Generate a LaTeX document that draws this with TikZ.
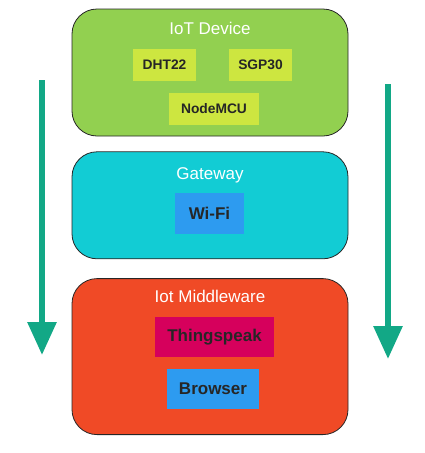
\documentclass[tikz,border=0pt]{standalone}
\usepackage{fontspec}
\setmainfont{Liberation Sans}
\usetikzlibrary{positioning,arrows.meta}
\definecolor{devicegreen}{RGB}{146,208,80}
\definecolor{chipgreen}{RGB}{205,230,64}
\definecolor{gatecyan}{RGB}{18,204,212}
\definecolor{wifiblue}{RGB}{45,155,240}
\definecolor{midred}{RGB}{240,74,38}
\definecolor{speakpink}{RGB}{214,0,92}
\definecolor{arrowteal}{RGB}{18,168,134}
\begin{document}
\begin{tikzpicture}[x=1pt,y=-1pt,
  layer/.style={draw=black!85,line width=0.8pt,rounded corners=25pt,minimum width=276pt},
  title/.style={text=white,anchor=base,font=\fontsize{17}{17}\selectfont},
  chip/.style={fill=chipgreen,text=black!85,inner sep=0pt,minimum height=32pt,font=\bfseries\fontsize{13.8}{14}\selectfont},
  part/.style={text=black!85,inner sep=0pt,minimum height=40pt,font=\bfseries\fontsize{17}{17}\selectfont}]
  \tikzstyle{flow}=[line width=6pt, draw=arrowteal, -{Triangle[length=33pt,width=28pt]}]

\useasboundingbox (0,0) rectangle (425,453);

\node [layer,fill=devicegreen,minimum height=127pt] (iot) at (210,72.5) {};
\node [layer,fill=gatecyan,minimum height=107pt,below=15pt of iot] (gw) {};
\node [layer,fill=midred,minimum height=156pt,below=19pt of gw] (mw) {};

\node [title] (iot_t) at (210,34.5) {IoT Device};
\node [title] (gw_t) at (210,179.5) {Gateway};
\node [title] (mw_t) at (210,302.5) {Iot Middleware};

\node [chip,minimum width=63pt] (dht) at (164.5,65) {DHT22};
\node [chip,minimum width=63pt] (sgp) at (260.5,65) {SGP30};
\node [chip,minimum width=90pt] (mcu) at (214,109) {NodeMCU};

\node [part,fill=wifiblue,minimum width=69pt,minimum height=41pt] (wifi) at (209.5,213.5) {Wi-Fi};

\node [part,fill=speakpink,minimum width=119pt] (ts) at (214.5,337) {Thingspeak};
\node [part,fill=wifiblue,minimum width=92pt] (br) at (213,389) {Browser};

% data flow, top to bottom
\coordinate (l_top) at (42,80);
\coordinate (l_tip) at (42,355);
\coordinate (r_top) at (388,84);
\coordinate (r_tip) at (388,359);
\draw[flow] (l_top) -- (l_tip);
\draw[flow] (r_top) -- (r_tip);

\end{tikzpicture}
\end{document}
